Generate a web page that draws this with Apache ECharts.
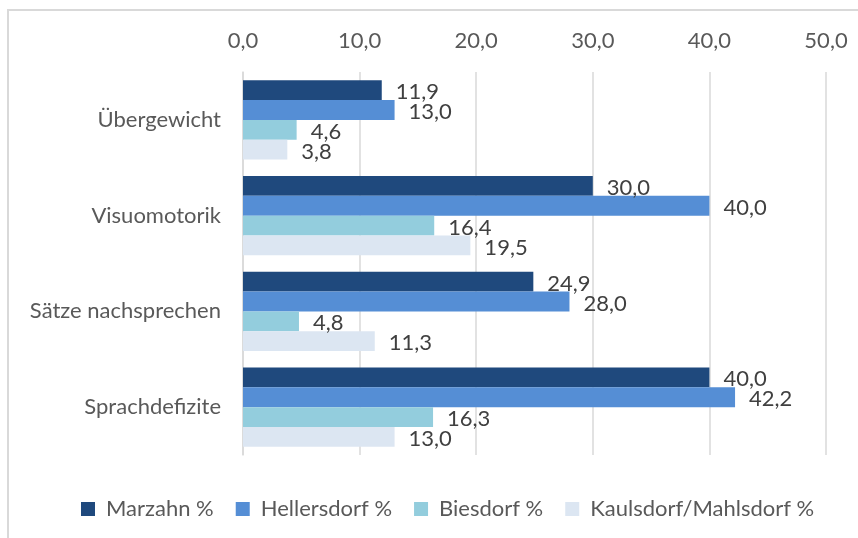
<!DOCTYPE html>
<html>
<head>
<meta charset="utf-8">
<script src="https://cdn.jsdelivr.net/npm/echarts@6/dist/echarts.min.js"></script>
<style>
  html, body { margin: 0; padding: 0; background: #fff; }
  #chart { width: 858px; height: 538px; }
</style>
</head>
<body>
<div id="chart"></div>
<script>
const categories = ["Übergewicht", "Visuomotorik", "Sätze nachsprechen", "Sprachdefizite"];
const seriesNames = ["Marzahn %", "Hellersdorf %", "Biesdorf %", "Kaulsdorf/Mahlsdorf %"];
const marzahn = [11.9, 30.0, 24.9, 40.0];
const hellersdorf = [13.0, 40.0, 28.0, 42.2];
const biesdorf = [4.6, 16.4, 4.8, 16.3];
const kaulsdorf = [3.8, 19.5, 11.3, 13.0];
const colorList = ["#1f497d", "#558ed5", "#93cddd", "#dce6f2"];

const chart = echarts.init(document.getElementById("chart"));

const fmt = (v) => v.toFixed(1).replace(".", ",");
const font = "Lato";

function makeSeries(name, data, i) {
  return {
    name: name,
    type: "bar",
    data: data,
    barGap: "0%",
    barCategoryGap: "17%",
    itemStyle: { color: colorList[i] },
    label: {
      show: true,
      position: "right",
      distance: 14,
      offset: [0, 2],
      color: "#404040",
      fontSize: 22,
      fontFamily: font,
      formatter: (p) => fmt(p.value),
    },
  };
}

chart.setOption({
  backgroundColor: "#fff",
  animation: false,
  graphic: [
    {
      type: "rect",
      shape: { x: 8, y: 10, width: 900, height: 600 },
      style: { fill: "none", stroke: "#d9d9d9", lineWidth: 2 },
    },
  ],
  legend: {
    top: 493,
    left: 76,
    icon: "rect",
    itemWidth: 14,
    itemHeight: 14,
    itemGap: 22,
    textStyle: {
      color: "#595959",
      fontSize: 22,
      fontFamily: font,
      padding: [0, 0, 0, 6],
    },
    data: seriesNames,
  },
  grid: {
    left: 243,
    right: 32,
    top: 72,
    bottom: 83,
    containLabel: false,
  },
  xAxis: {
    type: "value",
    position: "top",
    min: 0,
    max: 50,
    interval: 10,
    axisLine: { show: false },
    axisTick: { show: false },
    axisLabel: {
      color: "#595959",
      fontSize: 22,
      fontFamily: font,
      margin: 20,
      formatter: (v) => fmt(v),
    },
    splitLine: { show: true, lineStyle: { color: "#d9d9d9", width: 1.5 } },
  },
  yAxis: {
    type: "category",
    inverse: true,
    data: categories,
    axisLine: { show: true, lineStyle: { color: "#d9d9d9", width: 1.5 } },
    axisTick: { show: false },
    axisLabel: {
      color: "#595959",
      fontSize: 22,
      fontFamily: font,
      margin: 22,
    },
  },
  series: [
    makeSeries(seriesNames[0], marzahn, 0),
    makeSeries(seriesNames[1], hellersdorf, 1),
    makeSeries(seriesNames[2], biesdorf, 2),
    makeSeries(seriesNames[3], kaulsdorf, 3),
  ],
});
</script>
</body>
</html>
